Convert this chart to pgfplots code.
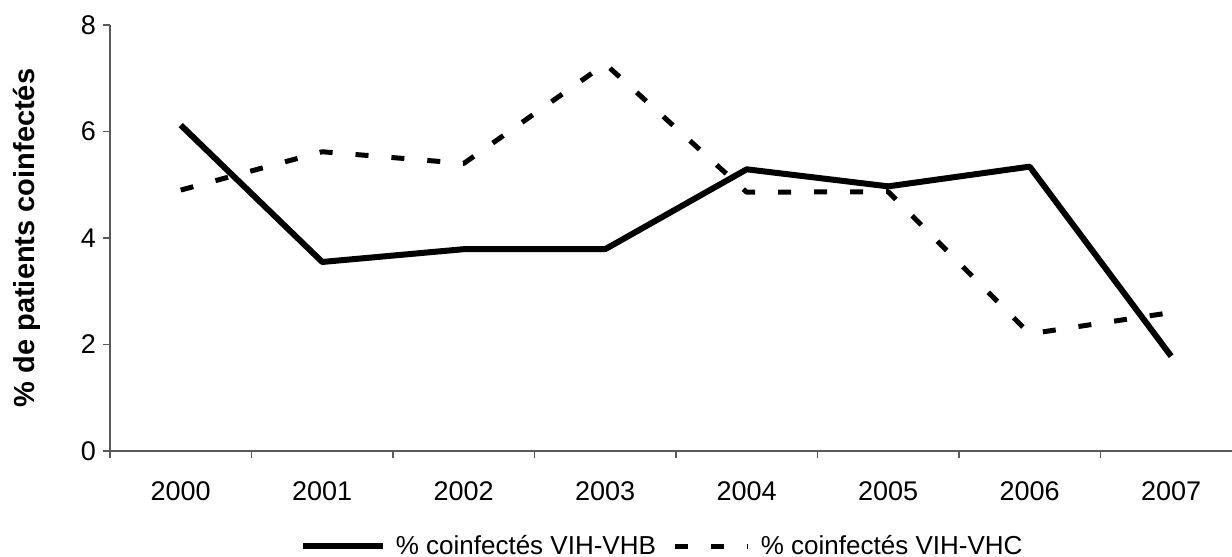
\documentclass[border=0pt]{standalone}
\usepackage{pgfplots}
\pgfplotsset{compat=1.18}
\usepackage{fontspec}
\setmainfont{Liberation Sans}
\pgfplotstableread{
x vhb vhc
0 6.12 4.90
1 3.55 5.62
2 3.79 5.40
3 3.79 7.27
4 5.29 4.86
5 4.97 4.87
6 5.34 2.20
7 1.78 2.60
}\datatable
\pgfplotsset{
  solidsample/.style={legend image code/.code={\draw[##1] (0bp,0bp) -- (40bp,0bp);}},
  dashsample/.style={legend image code/.code={\draw[##1, dash pattern=on 6.5bp off 11.5bp, dash phase=11.5bp] (0bp,0bp) -- (43bp,0bp);}},
}
\begin{document}
\begin{tikzpicture}
\begin{axis}[
  scale only axis, width=561bp, height=213bp,
  at={(0,0)}, anchor=south west,
  xmin=-0.5, xmax=7.43, ymin=0, ymax=8,
  axis x line*=bottom, axis y line*=left,
  axis line style={black!65, line width=0.6bp, -},
  xtick={0,1,2,3,4,5,6,7},
  xticklabels={2000,2001,2002,2003,2004,2005,2006,2007},
  major x tick style={draw=none},
  minor xtick={-0.5,0.5,1.5,2.5,3.5,4.5,5.5,6.5},
  ytick={0,2,4,6,8},
  tick align=outside,
  major tick length=3.5bp, minor tick length=3.5bp,
  every tick/.style={black!65, line width=0.6bp},
  /pgf/number format/assume math mode=true,
  ticklabel style={font=\fontsize{13.5bp}{16bp}\selectfont},
  xticklabel style={yshift=-8.5bp},
  ylabel={\% de patients coinfectés},
  ylabel style={at={(axis description cs:-0.074,0.5)}, anchor=center, font=\bfseries\fontsize{14.5bp}{17bp}\selectfont},
  legend columns=2,
  legend style={at={(axis description cs:0.493,-0.223)}, anchor=center, draw=none, fill=none,
    font=\fontsize{13bp}{15bp}\selectfont, inner sep=0pt,
    nodes={inner xsep=2bp},
    /tikz/every odd column/.append style={column sep=3bp}},
  line join=round,
]
\addplot[black, line width=3bp, solidsample] table[x=x, y=vhb] {\datatable};
\addlegendentry{\% coinfectés VIH-VHB}
\addplot[black, line width=2.5bp, dash pattern=on 6.5bp off 11.5bp, dashsample] table[x=x, y=vhc] {\datatable};
\addlegendentry{\% coinfectés VIH-VHC}
\end{axis}
\pgfresetboundingbox
\useasboundingbox (-55bp,-53bp) rectangle (561bp,225.5bp);
\end{tikzpicture}
\end{document}
